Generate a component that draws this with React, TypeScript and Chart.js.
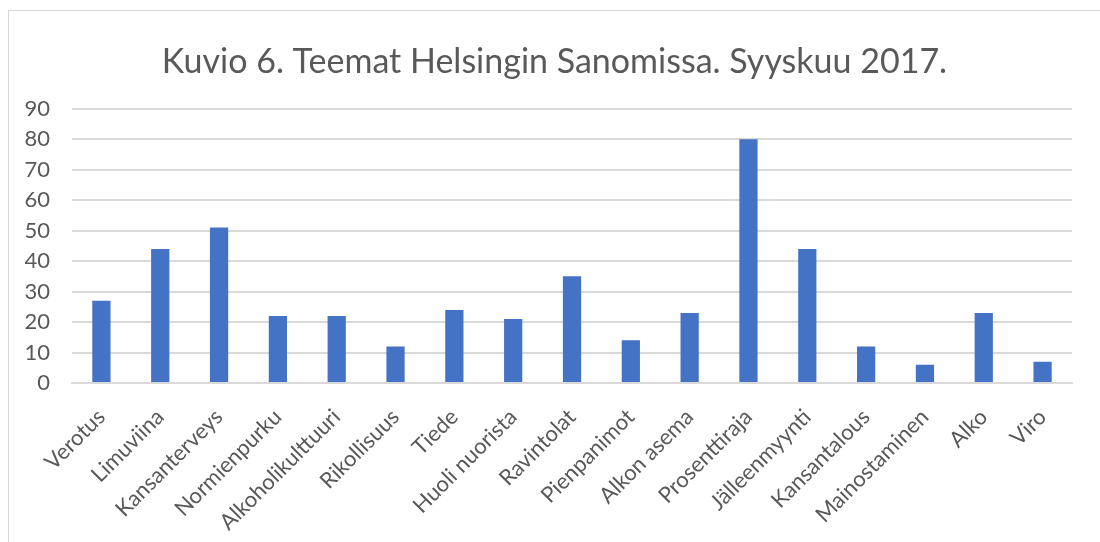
import React, { useEffect, useRef } from "react";
import { Chart, registerables } from "chart.js";

Chart.register(...registerables);

const TITLE = "Kuvio 6. Teemat Helsingin Sanomissa. Syyskuu 2017.";
const categories = [
  "Verotus",
  "Limuviina",
  "Kansanterveys",
  "Normienpurku",
  "Alkoholikulttuuri",
  "Rikollisuus",
  "Tiede",
  "Huoli nuorista",
  "Ravintolat",
  "Pienpanimot",
  "Alkon asema",
  "Prosenttiraja",
  "Jälleenmyynti",
  "Kansantalous",
  "Mainostaminen",
  "Alko",
  "Viro",
];
const values = [27, 44, 51, 22, 22, 12, 24, 21, 35, 14, 23, 80, 44, 12, 6, 23, 7];
const yTicks = [0, 10, 20, 30, 40, 50, 60, 70, 80, 90];

const FONT = "Lato";
const TEXT = "#595959";
const GRID = "#d9d9d9";

const centerTitle = {
  id: "centerTitle",
  afterLayout(chart: any) {
    if (chart.titleBlock) {
      chart.titleBlock.left = 0;
      chart.titleBlock.right = chart.width;
      chart.titleBlock.width = chart.width;
    }
  },
};

export default function App() {
  const ref = useRef<HTMLCanvasElement | null>(null);
  useEffect(() => {
    if (!ref.current) return;
    const chart = new Chart(ref.current, {
      type: "bar",
      data: {
        labels: categories,
        datasets: [
          {
            data: values,
            backgroundColor: "#4472C4",
            borderWidth: 0,
            barPercentage: 0.62,
            categoryPercentage: 0.5,
          },
        ],
      },
      plugins: [centerTitle],
      options: {
        animation: false,
        responsive: false,
        devicePixelRatio: 1,
        layout: { padding: { left: 0, right: 28, top: 0, bottom: 0 } },
        plugins: {
          legend: { display: false },
          tooltip: { enabled: false },
          title: {
            display: true,
            text: TITLE,
            color: TEXT,
            font: { family: FONT, size: 34, weight: "normal" },
            padding: { top: 31, bottom: 26 },
          },
        },
        scales: {
          x: {
            grid: { display: false, drawTicks: false },
            border: { display: true, color: GRID, width: 2 },
            ticks: {
              color: TEXT,
              font: { family: FONT, size: 22 },
              minRotation: 45,
              maxRotation: 45,
              autoSkip: false,
              padding: 21,
            },
            afterFit: (s: any) => {
              s.height = 159;
            },
          },
          y: {
            min: 0,
            max: 90,
            afterBuildTicks: (s: any) => {
              s.ticks = yTicks.map((v) => ({ value: v }));
            },
            grid: { color: GRID, lineWidth: 2, drawTicks: false },
            border: { display: false },
            ticks: {
              color: TEXT,
              font: { family: FONT, size: 22 },
              padding: 22,
            },
            afterFit: (s: any) => {
              s.width = 63;
            },
          },
        },
      },
    });
    return () => chart.destroy();
  }, []);
  return (
    <div
      style={{
        position: "absolute",
        left: 8,
        top: 10,
        width: 1092,
        height: 532,
        borderTop: "1px solid #d9d9d9",
        borderLeft: "1px solid #d9d9d9",
        background: "#fff",
        overflow: "hidden",
      }}
    >
      <canvas ref={ref} width={1091} height={531} style={{ display: "block" }} />
    </div>
  );
}
